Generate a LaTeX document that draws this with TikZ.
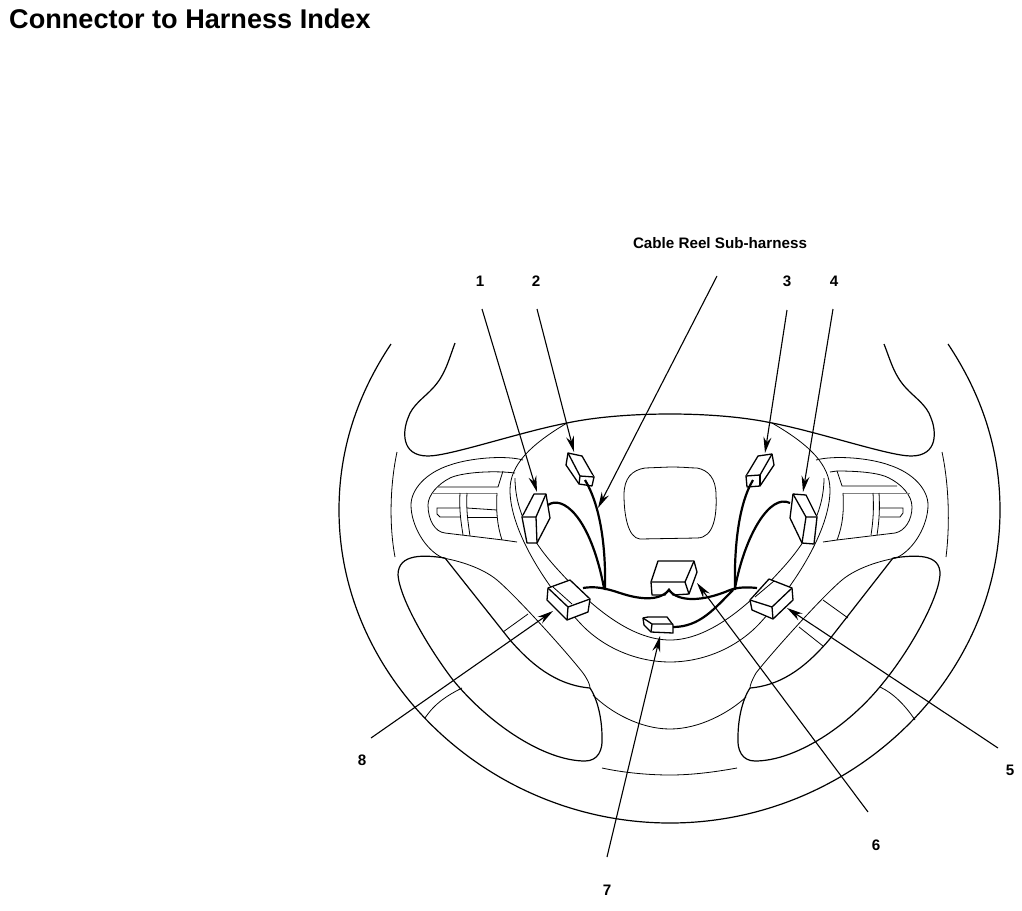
\documentclass[tikz,border=0pt]{standalone}
\usepackage{fontspec}
\setmainfont{Liberation Sans}
\usetikzlibrary{arrows.meta}
\tikzset{
  thinline/.style={line width=0.8pt},
  rimline/.style={line width=1.2pt},
  boxline/.style={line width=1.3pt,fill=white,line join=round},
  wire/.style={line width=2.2pt},
  leader/.style={line width=1.1pt,-{Stealth[length=16pt,width=8pt]}},
  lbl/.style={font=\bfseries\fontsize{15.2}{17}\selectfont,inner sep=0pt}
}
\begin{document}
\begin{tikzpicture}[x=1pt,y=-1pt]
  \useasboundingbox (0,0) rectangle (1022,910);
  \node[font=\bfseries\fontsize{27.1}{30}\selectfont,anchor=west,inner sep=0pt] (title) at (9,19) {Connector to Harness Index};
  \node[lbl] (cable) at (720,243) {Cable Reel Sub-harness};
  \node[lbl] (1) at (480,281) {1};
  \node[lbl] (2) at (536,281) {2};
  \node[lbl] (3) at (787,281) {3};
  \node[lbl] (4) at (834,281) {4};
  \node[lbl] (5) at (1010,770) {5};
  \node[lbl] (6) at (876,845) {6};
  \node[lbl] (7) at (607,890) {7};
  \node[lbl] (8) at (362,760) {8};
  % rim and spokes
  \draw[rimline] (391,344) .. controls (357,395) and (339,450) .. (339,510)
    .. controls (339,680) and (490,823) .. (670,823)
    .. controls (850,823) and (1000,680) .. (1000,510)
    .. controls (1000,450) and (982,395) .. (948,344);
  \draw[rimline] (455,343) .. controls (448,362) and (445,375) .. (433,388)
    .. controls (425,397) and (412,405) .. (408,418)
    .. controls (403,430) and (400,456) .. (428,456)
    .. controls (450,456) and (520,432) .. (567,423)
    .. controls (600,416) and (640,414) .. (670,414)
    .. controls (700,414) and (739,416) .. (772,423)
    .. controls (819,432) and (889,456) .. (911,456)
    .. controls (939,456) and (936,430) .. (931,418)
    .. controls (927,405) and (914,397) .. (906,388)
    .. controls (894,375) and (891,362) .. (884,344);
  \draw[thinline] (397,452) .. controls (390,485) and (389,525) .. (395,557);
  \draw[thinline] (942,452) .. controls (949,485) and (950,525) .. (946,557);
  \draw[thinline] (602,768) .. controls (625,773) and (650,775) .. (670,775) .. controls (692,775) and (715,772) .. (737,768);
  % hub
  \draw[thinline] (567,423) .. controls (530,445) and (510,465) .. (510,490)
    .. controls (510,530) and (545,585) .. (580,623)
    .. controls (605,650) and (640,662) .. (670,662)
    .. controls (700,662) and (735,650) .. (760,623)
    .. controls (795,585) and (830,530) .. (830,490)
    .. controls (830,465) and (810,445) .. (772,423);
  \draw[thinline] (515,478) .. controls (515,510) and (530,540) .. (560,572)
    .. controls (590,605) and (630,640) .. (670,640)
    .. controls (709,640) and (749,605) .. (779,572)
    .. controls (809,540) and (824,510) .. (824,478);
  % centre pad
  \draw[thinline] (670,467) .. controls (685,467) and (690,468) .. (697,468)
    .. controls (708,470) and (716,478) .. (716,495)
    .. controls (717,515) and (714,538) .. (697,538)
    -- (640,539)
    .. controls (628,538) and (624,515) .. (624,495)
    .. controls (624,478) and (632,470) .. (645,468) -- cycle;
  % left panel
  \draw[thinline] (523,460) .. controls (505,455) and (470,458) .. (450,465)
    .. controls (425,473) and (411,490) .. (411,505)
    .. controls (411,525) and (425,550) .. (443,558)
    .. controls (465,562) and (485,570) .. (497,580)
    .. controls (515,595) and (565,650) .. (583,673)
    .. controls (588,680) and (590,685) .. (590,688);
  \draw[thinline] (515,473) .. controls (490,470) and (460,473) .. (450,478)
    .. controls (438,484) and (428,495) .. (428,505)
    .. controls (428,520) and (435,532) .. (445,533)
    -- (503,540) -- (517,542);
  \draw[thinline] (503,471) -- (498,487) -- (438,487);
  \draw[thinline,gray] (433,493) -- (497,493);
  \draw[thinline] (497,493) .. controls (496,510) and (497,525) .. (502,540);
  \draw[thinline] (460,493) .. controls (459,510) and (461,522) .. (463,535);
  \draw[thinline] (467,493) .. controls (466,510) and (468,522) .. (470,536);
  \draw[thinline] (460,508) -- (437,508) -- (437,514) -- (440,517) -- (460,517);
  \draw[thinline] (467,508) -- (497,510);
  \draw[thinline] (467,517) -- (497,517);
  % right panel
  \draw[thinline] (816,460) .. controls (835,455) and (870,458) .. (889,465)
    .. controls (914,473) and (928,490) .. (928,505)
    .. controls (928,525) and (914,550) .. (896,558)
    .. controls (874,562) and (854,570) .. (842,580)
    .. controls (824,595) and (774,650) .. (756,673)
    .. controls (752,680) and (750,685) .. (750,688);
  \draw[thinline] (830,472) -- (837,471) .. controls (860,471) and (880,473) .. (889,478)
    .. controls (901,484) and (912,495) .. (912,507)
    .. controls (912,520) and (905,531) .. (895,533)
    -- (837,540) -- (823,542);
  \draw[thinline] (837,471) -- (842,486) -- (897,486);
  \draw[thinline,gray] (843,493) -- (910,493);
  \draw[thinline] (843,493) .. controls (844,510) and (843,525) .. (837,540);
  \draw[thinline] (873,493) .. controls (874,510) and (873,522) .. (871,535);
  \draw[thinline] (879,493) .. controls (880,510) and (879,522) .. (877,535);
  \draw[thinline] (880,508) -- (903,508) -- (903,513) -- (900,517) -- (880,517);
  % lower left spoke
  \draw[rimline] (445,558) .. controls (425,555) and (398,553) .. (398,575)
    .. controls (400,600) and (430,650) .. (453,680)
    .. controls (490,725) and (545,761) .. (585,761)
    .. controls (598,761) and (603,750) .. (602,737)
    .. controls (602,720) and (598,700) .. (590,688);
  \draw[rimline] (445,558) -- (510,640) .. controls (530,663) and (555,685) .. (590,688);
  \draw[thinline] (593,695) .. controls (610,712) and (640,729) .. (670,729)
    .. controls (700,729) and (730,712) .. (746,697);
  \draw[thinline] (503,632) -- (528,614);
  \draw[thinline] (425,718) .. controls (435,703) and (448,695) .. (462,688);
  % lower right spoke
  \draw[rimline] (893,558) .. controls (915,555) and (941,553) .. (940,575)
    .. controls (938,600) and (910,650) .. (883,683)
    .. controls (848,727) and (795,761) .. (755,761)
    .. controls (742,761) and (737,750) .. (738,737)
    .. controls (738,720) and (742,700) .. (750,688);
  \draw[rimline] (893,558) -- (829,640) .. controls (809,663) and (785,685) .. (750,688);
  \draw[thinline] (823,600) -- (848,618);
  \draw[thinline] (799,627) -- (823,646);
  \draw[thinline] (880,687) .. controls (893,693) and (905,705) .. (915,720);
  % connector 1
  \draw[boxline] (534,494) -- (546,494) -- (550,518) -- (537,543) -- (527,543) -- (522,517) -- cycle;
  \draw[boxline] (522,517) -- (536,517) -- (546,494);
  \draw[boxline] (536,517) -- (537,543);
  % connector 2
  \draw[boxline] (568,453) -- (582,456) -- (594,477) -- (592,486) -- (579,484) -- (566,465) -- cycle;
  \draw[boxline] (568,453) -- (580,476) -- (594,477);
  \draw[boxline] (580,476) -- (579,484);
  % connector 3
  \draw[boxline] (758,456) -- (772,454) -- (774,465) -- (760,486) -- (747,487) -- (746,476) -- cycle;
  \draw[boxline] (746,476) -- (760,475) -- (772,454);
  \draw[boxline] (760,475) -- (760,486);
  % connector 4
  \draw[boxline] (793,494) -- (806,495) -- (817,517) -- (814,544) -- (802,543) -- (790,518) -- cycle;
  \draw[boxline] (793,494) -- (806,517) -- (817,517);
  \draw[boxline] (806,517) -- (802,543);
  % connector 5
  \draw[boxline] (769,579) -- (792,588) -- (793,600) -- (773,619) -- (752,610) -- (750,600) -- cycle;
  \draw[boxline] (750,600) -- (772,607) -- (792,588);
  \draw[boxline] (772,607) -- (773,619);
  \draw[thinline] (755,597) -- (774,581);
  % connector 6
  \draw[boxline] (658,561) -- (694,561) -- (697,572) -- (689,594) -- (673,595) -- (669,589) -- (665,595) -- (652,595) -- (651,582) -- cycle;
  \draw[boxline] (651,582) -- (685,582) -- (694,561);
  \draw[boxline] (685,582) -- (689,594);
  % connector 7
  \draw[boxline] (643,618) -- (648,617) -- (667,617) -- (673,625) -- (673,633) -- (651,632) -- (644,625) -- cycle;
  \draw[boxline] (643,618) -- (652,624) -- (673,624);
  \draw[boxline] (652,624) -- (651,632);
  % connector 8
  \draw[boxline] (548,588) -- (570,580) -- (590,599) -- (588,612) -- (567,620) -- (547,600) -- cycle;
  \draw[boxline] (548,588) -- (568,607) -- (590,599);
  \draw[boxline] (568,607) -- (567,620);
  \draw[thinline] (553,587) -- (572,604);
  % wires
  \draw[wire] (548,505) .. controls (562,495) and (590,515) .. (604,588);
  \draw[wire] (585,480) .. controls (600,505) and (606,545) .. (605,590);
  \draw[wire] (753,480) .. controls (738,505) and (734,550) .. (735,590);
  \draw[wire] (790,503) .. controls (770,493) and (745,535) .. (735,588);
  \draw[wire] (583,588) .. controls (595,586) and (605,588) .. (620,593) .. controls (635,598) and (658,603) .. (669,590) .. controls (678,602) and (702,602) .. (730,590) .. controls (738,587) and (748,587) .. (757,588);
  \draw[wire] (673,627) .. controls (700,627) and (715,608) .. (733,590);
  % leaders
  \coordinate (s1) at (482,309); \coordinate (c1) at (537,492);
  \coordinate (s2) at (537,309); \coordinate (c2) at (574,452);
  \coordinate (s3) at (787,310); \coordinate (c3) at (765,453);
  \coordinate (s4) at (833,309); \coordinate (c4) at (803,492);
  \coordinate (s5) at (998,748); \coordinate (c5) at (787,608);
  \coordinate (s6) at (868,812); \coordinate (c6) at (697,583);
  \coordinate (s7) at (607,857); \coordinate (c7) at (660,636);
  \coordinate (s8) at (371,738); \coordinate (c8) at (553,611);
  \coordinate (s9) at (717,276); \coordinate (c9) at (598,508);
  \foreach \a/\b in {s1/c1,s2/c2,s3/c3,s4/c4,s5/c5,s6/c6,s7/c7,s8/c8,s9/c9}
    \draw[leader] (\a) -- (\b);
\end{tikzpicture}
\end{document}
